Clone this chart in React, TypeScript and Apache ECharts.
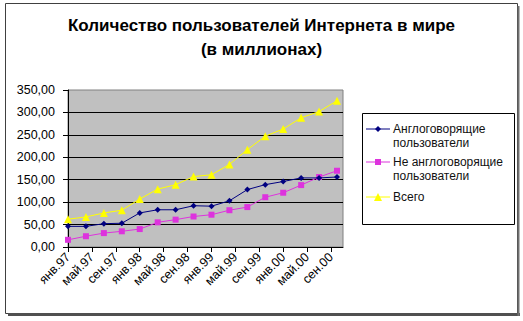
import React, { useEffect, useRef } from "react";
import * as echarts from "echarts";

const MONTHS = ["янв", "фев", "мар", "апр", "май", "июн", "июл", "авг", "сен", "окт", "ноя", "дек"];
const START_YEAR = 1997;
// month offsets from Jan 1997 of each data point (quarterly)
const pointMonths = [0, 3, 6, 9, 12, 15, 18, 21, 24, 27, 30, 33, 36, 39, 42, 45];
const xTickMonths = [0, 4, 8, 12, 16, 20, 24, 28, 32, 36, 40, 44];
const X_MAX = 46;
const yTicks = [0, 50, 100, 150, 200, 250, 300, 350];

const seriesNames = ["Англоговорящие пользователи", "Не англоговорящие пользователи", "Всего"];
const legendLabels = ["Англоговорящие\nпользователи", "Не англоговорящие\nпользователи", "Всего"];
const english = [46, 46, 52, 53, 76, 83, 83, 92, 91, 103, 128, 139, 146, 154, 154, 156];
const nonEnglish = [16, 24, 31, 35, 40, 55, 61, 68, 72, 82, 89, 111, 121, 138, 156, 170];
const total = [62, 67, 76, 82, 107, 129, 139, 157, 161, 184, 217, 247, 263, 288, 302, 326];
const seriesColors = ["#000080", "#dd33dd", "#ffff00"];
const seriesSymbols = ["diamond", "rect", "triangle"];
const seriesSymbolSizes = [6, 6, 8];

const FONT = "'Liberation Sans', Arial, sans-serif";

function fmtMonth(m: number): string {
  const yy = (START_YEAR + Math.floor(m / 12)) % 100;
  return MONTHS[m % 12] + "." + String(yy).padStart(2, "0");
}

function legendGraphic() {
  const box = { x: 362, y: 113, w: 152, h: 111 };
  const itemYs = [129, 162, 197];
  const els: any[] = [
    {
      type: "rect",
      shape: { x: box.x + 0.5, y: box.y + 0.5, width: box.w, height: box.h },
      style: { fill: "#ffffff", stroke: "#000000", lineWidth: 1 },
      z: 10,
    },
  ];
  legendLabels.forEach((label, i) => {
    const y = itemYs[i];
    const c = seriesColors[i];
    els.push({
      type: "line",
      shape: { x1: 366, y1: y, x2: 390, y2: y },
      style: { stroke: c, lineWidth: 1 },
      z: 11,
    });
    const cx = 378;
    const s = seriesSymbolSizes[i] / 2;
    if (seriesSymbols[i] === "diamond") {
      els.push({
        type: "polygon",
        shape: { points: [[cx, y - s], [cx + s, y], [cx, y + s], [cx - s, y]] },
        style: { fill: c },
        z: 12,
      });
    } else if (seriesSymbols[i] === "rect") {
      els.push({
        type: "rect",
        shape: { x: cx - s, y: y - s, width: s * 2, height: s * 2 },
        style: { fill: c },
        z: 12,
      });
    } else {
      els.push({
        type: "polygon",
        shape: { points: [[cx, y - s], [cx + s, y + s], [cx - s, y + s]] },
        style: { fill: c },
        z: 12,
      });
    }
    els.push({
      type: "text",
      x: 393,
      y: y - 7,
      style: {
        text: label,
        fontSize: 12,
        fontFamily: FONT,
        fill: "#111111",
        lineHeight: 14,
        verticalAlign: "top",
        align: "left",
      },
      z: 12,
    });
  });
  return els;
}

export default function App() {
  const ref = useRef<HTMLDivElement>(null);
  useEffect(() => {
    if (!ref.current) return;
    const chart = echarts.init(ref.current, undefined, { renderer: "svg" });
    const datas = [english, nonEnglish, total];
    const option: any = {
      animation: false,
      backgroundColor: "#ffffff",
      title: {
        text: "Количество пользователей Интернета в мире\n(в миллионах)",
        left: "center",
        top: 8,
        textStyle: {
          fontSize: 17,
          fontWeight: "bold",
          fontFamily: FONT,
          color: "#000000",
          lineHeight: 24,
        },
      },
      grid: {
        left: 68,
        top: 90,
        width: 275,
        height: 157,
        show: true,
        backgroundColor: "#c0c0c0",
        borderColor: "#808080",
        borderWidth: 1,
      },
      xAxis: {
        type: "value",
        min: 0,
        max: X_MAX,
        axisLine: { show: true, onZero: false, lineStyle: { color: "#000000", width: 1 } },
        axisTick: { show: true, customValues: xTickMonths, length: 5, lineStyle: { color: "#000000" } },
        axisLabel: {
          customValues: xTickMonths,
          formatter: (v: number) => fmtMonth(v),
          rotate: 45,
          margin: 8,
          fontSize: 12.5,
          fontFamily: FONT,
          color: "#000000",
        },
        splitLine: { show: false },
      },
      yAxis: {
        type: "value",
        min: yTicks[0],
        max: yTicks[yTicks.length - 1],
        interval: 50,
        axisLine: { show: true, lineStyle: { color: "#000000", width: 1 } },
        axisTick: { show: true, length: 5, lineStyle: { color: "#000000" } },
        axisLabel: {
          formatter: (v: number) => v.toFixed(2).replace(".", ","),
          margin: 13,
          fontSize: 12.5,
          fontFamily: FONT,
          color: "#000000",
        },
        splitLine: { show: true, showMaxLine: false, lineStyle: { color: "#000000", width: 1 } },
      },
      series: seriesNames.map((name, i) => ({
        name,
        type: "line",
        data: pointMonths.map((m, j) => [m, datas[i][j]]),
        symbol: seriesSymbols[i],
        symbolSize: seriesSymbolSizes[i],
        showSymbol: true,
        itemStyle: { color: seriesColors[i] },
        lineStyle: { color: seriesColors[i], width: 1 },
        z: 3 - i + 2,
      })),
      graphic: [
        {
          type: "rect",
          shape: { x: 5.5, y: 3.5, width: 512, height: 310 },
          style: { fill: "none", stroke: "#404040", lineWidth: 1 },
          z: 1,
        },
        {
          type: "line",
          shape: { x1: 8, y1: 314.5, x2: 520, y2: 314.5 },
          style: { stroke: "#505050", lineWidth: 3 },
          z: 1,
        },
        {
          type: "line",
          shape: { x1: 518.5, y1: 6, x2: 518.5, y2: 316 },
          style: { stroke: "#707070", lineWidth: 2 },
          z: 1,
        },
        ...legendGraphic(),
      ],
    };
    chart.setOption(option);
    return () => chart.dispose();
  }, []);
  return (
    <div
      ref={ref}
      style={{ position: "absolute", left: 0, top: 0, width: 523, height: 321 }}
    />
  );
}
